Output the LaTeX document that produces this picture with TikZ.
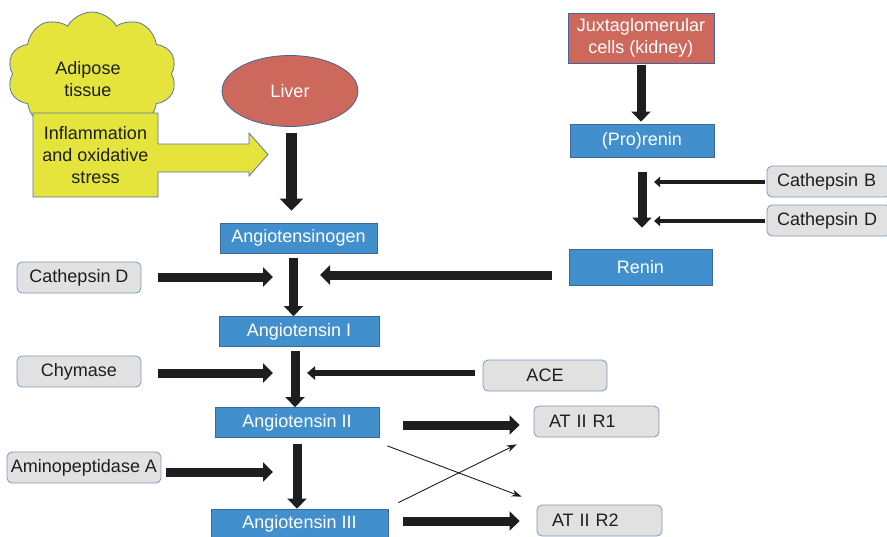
\documentclass[tikz,border=0pt]{standalone}
\usepackage{fontspec}
\setmainfont{Liberation Sans}
\usetikzlibrary{arrows.meta,shapes.geometric,shapes.symbols}
\definecolor{boxblue}{RGB}{66,143,206}
\definecolor{blueline}{RGB}{62,102,150}
\definecolor{organred}{RGB}{205,104,92}
\definecolor{redline}{RGB}{70,100,150}
\definecolor{boxgrey}{RGB}{225,225,225}
\definecolor{greyline}{RGB}{120,155,190}
\definecolor{fatyellow}{RGB}{228,228,60}
\definecolor{yellowline}{RGB}{90,120,160}
\definecolor{inkdark}{RGB}{30,30,32}

\begin{document}
\begin{tikzpicture}[x=1pt, y=-1pt, every node/.style={font=\fontsize{18}{22}\selectfont},
    bluebox/.style={draw=blueline, fill=boxblue, text=white, line width=0.8pt, minimum height=30pt, inner sep=0pt},
    redbox/.style={draw=redline, fill=organred, text=white, line width=0.8pt, inner sep=0pt, align=center},
    greybox/.style={draw=greyline, fill=boxgrey, rounded corners=5pt, line width=0.8pt, minimum height=31pt, inner sep=0pt, text=inkdark},
    fatarrow/.style={draw=inkdark, line width=9pt, -{Triangle[width=19pt,length=10pt]}},
    bigarrow/.style={draw=inkdark, line width=11pt, -{Triangle[width=23pt,length=12pt]}},
    aceline/.style={draw=inkdark, line width=6pt, -{Triangle[width=13pt,length=8pt]}},
    cathline/.style={draw=inkdark, line width=4.5pt, -{Triangle[width=10pt,length=6pt]}},
    thinarrow/.style={draw=inkdark, line width=0.9pt, -{Stealth[length=10pt,width=7pt]}}]
    \useasboundingbox (0,0) rectangle (887,536);

    % adipose tissue and the yellow arrow
    \node[cloud, cloud puffs=10, cloud puff arc=120, aspect=1.3, draw=yellowline, fill=fatyellow, line width=0.8pt, minimum width=169pt, minimum height=124pt, inner sep=0pt] (adipose) at (92,74) {};
    \node[align=center, text=inkdark] (adiposetext) at (88,79) {Adipose\\tissue};
    \filldraw[fill=fatyellow, draw=yellowline, line width=0.8pt] (33,113) -- (158,113) -- (158,144) -- (249,144) -- (249,133) -- (268,154.5) -- (249,176) -- (249,172) -- (158,172) -- (158,197) -- (33,197) -- cycle;
    \node[align=center, text=inkdark] (stress) at (95.5,155) {Inflammation\\and oxidative\\stress};

    % main cascade
    \node[ellipse, draw=redline, fill=organred, text=white, line width=0.8pt, minimum width=136pt, minimum height=71pt, inner sep=0pt] (liver) at (290,91) {Liver};
    \node[bluebox, minimum width=157pt] (agen) at (298.5,238) {Angiotensinogen};
    \node[bluebox, minimum width=160pt] (ang1) at (299,331.5) {Angiotensin I};
    \node[bluebox, minimum width=164pt] (ang2) at (297,422.5) {Angiotensin II};
    \node[bluebox, minimum width=177pt] (ang3) at (299.5,524) {Angiotensin III};

    % renin branch
    \node[redbox, minimum width=146pt, minimum height=50pt] (jg) at (641,38) {Juxtaglomerular\\cells (kidney)};
    \node[bluebox, minimum width=144pt, minimum height=33pt] (prorenin) at (642,140.5) {(Pro)renin};
    \node[bluebox, minimum width=143pt, minimum height=36pt] (renin) at (640.5,267) {Renin};

    % enzymes and receptors
    \node[greybox, minimum width=124pt] (cathDL) at (79,277.5) {Cathepsin D};
    \node[greybox, minimum width=124pt] (chymase) at (79,371.5) {Chymase};
    \node[greybox, minimum width=154pt] (amino) at (84,467.5) {Aminopeptidase A};
    \node[greybox, minimum width=124pt] (ace) at (545,375.5) {ACE};
    \node[greybox, text width=95pt, inner xsep=15pt, align=left] (atr1) at (596.5,421.5) {AT II R1};
    \node[greybox, text width=95pt, inner xsep=15pt, align=left] (atr2) at (599.5,520.5) {AT II R2};
    \node[greybox, text width=104pt, inner xsep=10pt, align=left] (cathB) at (829,181.5) {Cathepsin B};
    \node[greybox, text width=104pt, inner xsep=10pt, align=left] (cathDR) at (829,220.5) {Cathepsin D};

    % free arrow tips
    \coordinate (tipCD) at (273,277);
    \coordinate (tipCh) at (273,373);
    \coordinate (tipAm) at (273,472);
    \coordinate (tipRn) at (320,275);
    \coordinate (tipACE) at (307,373);
    \coordinate (tipCB) at (654,182);
    \coordinate (tipCR) at (654,221);

    % vertical steps
    \draw[bigarrow] ([xshift=1.5pt,yshift=-6pt]liver.south) -- ([xshift=1.5pt,yshift=12pt]liver.south |- agen.north);
    \draw[fatarrow] ([xshift=-5pt,yshift=-5pt]agen.south) -- ([xshift=-5pt]agen.south |- ang1.north);
    \draw[fatarrow] ([xshift=-4pt,yshift=-4pt]ang1.south) -- ([xshift=-4pt]ang1.south |- ang2.north);
    \draw[fatarrow] ([yshift=-6pt]ang2.south) -- (ang2.south |- ang3.north);
    \draw[fatarrow] ([yshift=-2pt]jg.south) -- ([yshift=2pt]jg.south |- prorenin.north);
    \draw[fatarrow] ([yshift=-15pt]prorenin.south) -- ([yshift=21pt]prorenin.south |- renin.north);

    % enzymes acting on the cascade
    \draw[fatarrow] ([xshift=17pt]cathDL.east |- tipCD) -- (tipCD);
    \draw[fatarrow] ([xshift=17pt]chymase.east |- tipCh) -- (tipCh);
    \draw[fatarrow] ([xshift=5pt]amino.east |- tipAm) -- (tipAm);
    \draw[fatarrow] ([xshift=-17pt]renin.west |- tipRn) -- (tipRn);
    \draw[aceline] ([xshift=-8pt]ace.west |- tipACE) -- (tipACE);
    \draw[cathline] ([xshift=-2pt]cathB.west |- tipCB) -- (tipCB);
    \draw[cathline] ([xshift=-2pt]cathDR.west |- tipCR) -- (tipCR);

    % receptors
    \draw[fatarrow] ([xshift=24pt,yshift=-2.5pt]ang2.east) -- ([xshift=-14pt,yshift=-2.5pt]ang2.east -| atr1.west);
    \draw[fatarrow] ([xshift=15pt,yshift=3pt]ang3.east) -- ([xshift=-17pt,yshift=3pt]ang3.east -| atr2.west);
    \draw[thinarrow] ([xshift=8pt,yshift=-8pt]ang2.south east) -- ([xshift=-15pt,yshift=8pt]atr2.north west);
    \draw[thinarrow] ([xshift=10pt,yshift=6pt]ang3.north east) -- ([xshift=-17pt,yshift=-7pt]atr1.south west);
\end{tikzpicture}
\end{document}
